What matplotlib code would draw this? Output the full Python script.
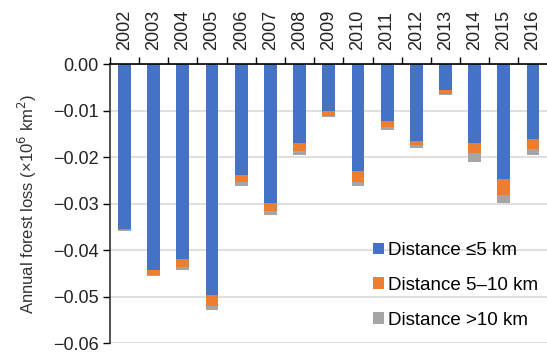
import numpy as np
import matplotlib.pyplot as plt
from matplotlib.ticker import FixedLocator, FuncFormatter

plt.rcParams['font.family'] = ['Liberation Sans', 'DejaVu Sans']

# Annual forest loss (x10^6 km2) split by distance band
years = ['2002', '2003', '2004', '2005', '2006', '2007', '2008', '2009',
         '2010', '2011', '2012', '2013', '2014', '2015', '2016']
loss_near = [0.0354, 0.0444, 0.0420, 0.0497, 0.0238, 0.0298, 0.0170, 0.0102,
             0.0230, 0.0122, 0.0166, 0.0056, 0.0170, 0.0247, 0.0162]
loss_mid = [0.0003, 0.0009, 0.0017, 0.0023, 0.0016, 0.0019, 0.0017, 0.0009,
            0.0024, 0.0014, 0.0009, 0.0008, 0.0022, 0.0034, 0.0021]
loss_far = [0.0001, 0.0002, 0.0005, 0.0009, 0.0008, 0.0007, 0.0009, 0.0003,
            0.0009, 0.0006, 0.0005, 0.0002, 0.0018, 0.0017, 0.0012]

blue = '#4472C4'
orange = '#ED7D31'
grey = '#A5A5A5'

near = -np.array(loss_near)
mid = -np.array(loss_mid)
far = -np.array(loss_far)
x = np.arange(len(years))

fig = plt.figure(figsize=(5.47, 3.54), dpi=100)
ax = fig.add_axes([0.201, 0.031, 0.80, 0.788])

w = 0.44
ax.bar(x, near, w, color=blue, label='Distance \u22645 km', zorder=3)
ax.bar(x, mid, w, bottom=near, color=orange, label='Distance 5\u201310 km', zorder=3)
ax.bar(x, far, w, bottom=near + mid, color=grey, label='Distance >10 km', zorder=3)

ax.set_xlim(-0.5, len(years) - 0.5)
ax.set_ylim(-0.06, 0.0)
ax.set_yticks(np.arange(-0.06, 0.001, 0.01))
ax.yaxis.set_major_formatter(FuncFormatter(lambda v, p: f'{v:.2f}'.replace('-', '\u2212')))
ax.grid(axis='y', color='#D9D9D9', linewidth=1.2, zorder=0)

# year labels on top, ticks between categories
ax.xaxis.tick_top()
ax.set_xticks(x)
ax.set_xticklabels(years, rotation=90, fontsize=13, color='#222222')
ax.tick_params(axis='x', which='major', length=0, pad=10)
ax.xaxis.set_minor_locator(FixedLocator(np.arange(-0.5, len(years), 1.0)))
ax.tick_params(axis='x', which='minor', length=5, width=1, color='black', top=True, bottom=False)

ax.tick_params(axis='y', length=5, width=1, color='black', labelsize=13,
               labelcolor='#222222', pad=3)

for side in ['right', 'bottom']:
    ax.spines[side].set_visible(False)
ax.spines['left'].set_color('#333333')
ax.spines['left'].set_linewidth(1.2)
ax.spines['top'].set_color('black')
ax.spines['top'].set_linewidth(1.2)
ax.spines['left'].set_zorder(4)
ax.spines['top'].set_zorder(4)

ax.set_ylabel('Annual forest loss (\u00d710$^{6}$ km$^{2}$)', fontsize=12, color='#333333', labelpad=10)

ax.legend(loc='lower left', bbox_to_anchor=(0.585, 0.025), frameon=False,
          fontsize=13.5, handlelength=0.55, handleheight=0.55, handletextpad=0.2,
          labelspacing=0.95, borderaxespad=0)

fig.savefig('out.png', dpi=100)
